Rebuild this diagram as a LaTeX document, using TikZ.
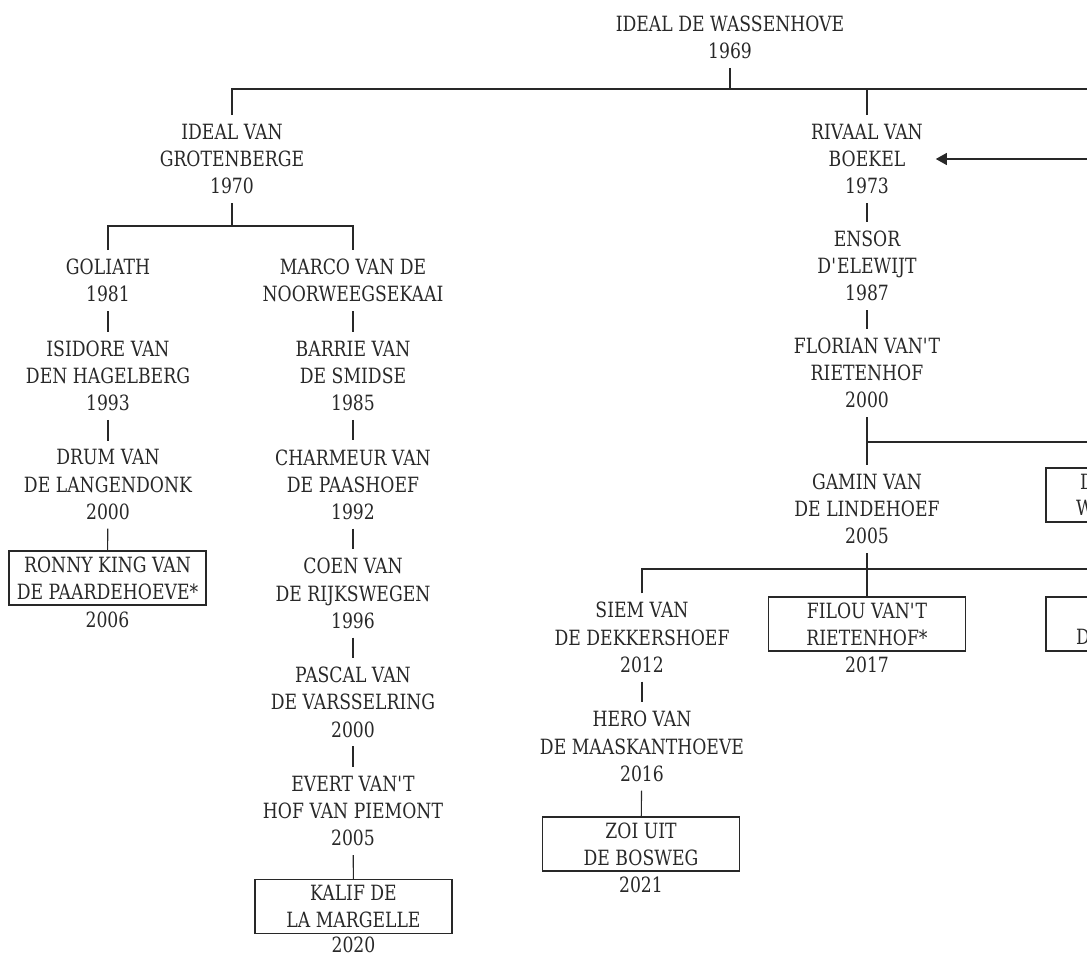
\documentclass[tikz,border=0pt]{standalone}
\usepackage{fontspec}
\setmainfont{DejaVu Serif}[FakeStretch=0.82]
\usetikzlibrary{arrows.meta}
\definecolor{inkcolor}{RGB}{40,40,40}

\tikzset{
  dog/.style={align=center, inner sep=0pt, outer sep=9pt, text=inkcolor,
    font=\fontsize{21pt}{27.2pt}\selectfont},
  dogbox/.style={dog, draw=inkcolor, line width=1.1pt, outer sep=0pt,
    minimum width=197pt, minimum height=54pt},
  cut/.style={anchor=west, inner sep=0pt, text=inkcolor,
    font=\fontsize{21pt}{27.2pt}\selectfont},
  link/.style={draw=inkcolor, line width=1.1pt}
}
\newcommand{\apos}{\textquotesingle}

\begin{document}
\begin{tikzpicture}[x=1pt, y=-1pt]
        \useasboundingbox (0,0) rectangle (1087,956);
        \clip (0,0) rectangle (1087,956);

        % Top
        \node[dog] (wass) at (730,37.3) {IDEAL DE WASSENHOVE\\1969};

        % Left branch
        \node[dog] (grot) at (232,159) {IDEAL VAN\\GROTENBERGE\\1970};
        \node[dog] (goliath) at (108,280.6) {GOLIATH\\1981};
        \node[dog] (isidore) at (108,375.8) {ISIDORE VAN\\DEN HAGELBERG\\1993};
        \node[dog] (drum) at (108,484.6) {DRUM VAN\\DE LANGENDONK\\2000};
        \node[dogbox] (ronny) at (107.5,578) {RONNY KING VAN\\DE PAARDEHOEVE*};
        \node[dog] (ronnyyr) at (107.5,620) {2006};

        \node[dog] (marco) at (353,280.6) {MARCO VAN DE\\NOORWEEGSEKAAI};
        \node[dog] (barrie) at (353,375.8) {BARRIE VAN\\DE SMIDSE\\1985};
        \node[dog] (charmeur) at (353,484.6) {CHARMEUR VAN\\DE PAASHOEF\\1992};
        \node[dog] (coen) at (353,593.4) {COEN VAN\\DE RIJKSWEGEN\\1996};
        \node[dog] (pascal) at (353,702.2) {PASCAL VAN\\DE VARSSELRING\\2000};
        \node[dog] (evert) at (353,811) {EVERT VAN\apos T\\HOF VAN PIEMONT\\2005};
        \node[dogbox] (kalif) at (353.5,906.5) {KALIF DE\\LA MARGELLE};
        \node[dog] (kalifyr) at (353.5,944.5) {2020};

        % Right branch
        \node[dog] (rivaal) at (867,159) {RIVAAL VAN\\BOEKEL\\1973};
        \node[dog] (ensor) at (867,266) {ENSOR\\D\apos ELEWIJT\\1987};
        \node[dog] (florian) at (867,373) {FLORIAN VAN\apos T\\RIETENHOF\\2000};
        \node[dog] (gamin) at (867,509) {GAMIN VAN\\DE LINDEHOEF\\2005};
        \node[dogbox] (dboxa) at (1144.5,495) {};
        \node[cut] at (1080,482) {D};
        \node[cut] at (1076,508) {W};

        \node[dog] (siem) at (642,637.5) {SIEM VAN\\DE DEKKERSHOEF\\2012};
        \node[dog] (hero) at (642,746.5) {HERO VAN\\DE MAASKANTHOEVE\\2016};
        \node[dogbox] (zoi) at (641,844) {ZOI UIT\\DE BOSWEG};
        \node[dog] (zoiyr) at (641,885) {2021};
        \node[dogbox] (filou) at (867,624) {FILOU VAN\apos T\\RIETENHOF*};
        \node[dog] (filouyr) at (867,665) {2017};
        \node[dogbox] (dboxb) at (1144.5,624) {};
        \node[cut] at (1076,637) {D};

        % Connections
        \draw[link] (wass) -- (wass |- 0,89);
        \draw[link] (grot) |- (1200,89);
        \draw[link] (rivaal) -- (rivaal |- 0,89);
        \draw[link, -{Triangle[length=11pt, width=12pt]}, shorten >=4pt] (1200,159) -- (rivaal.east);

        \draw[link] (grot) -- (grot |- 0,226);
        \draw[link] (goliath) |- (marco |- 0,226) -- (marco);
        \draw[link] (goliath) -- (isidore);
        \draw[link] (isidore) -- (drum);
        \draw[link] (drum) -- (ronny);
        \draw[link] (marco) -- (barrie);
        \draw[link] (barrie) -- (charmeur);
        \draw[link] (charmeur) -- (coen);
        \draw[link] (coen) -- (pascal);
        \draw[link] (pascal) -- (evert);
        \draw[link] (evert) -- (kalif);

        \draw[link] (rivaal) -- (ensor);
        \draw[link] (ensor) -- (florian);
        \draw[link] (florian) -- (florian |- 0,442);
        \draw[link] (gamin) |- (1200,442);
        \draw[link] (dboxa) -- (dboxa |- 0,442);
        \draw[link] (gamin) -- (gamin |- 0,569);
        \draw[link] (siem) |- (1200,569);
        \draw[link] (filou) -- (filou |- 0,569);
        \draw[link] (dboxb) -- (dboxb |- 0,569);
        \draw[link] (siem) -- (hero);
        \draw[link] (hero) -- (zoi);
    \end{tikzpicture}
\end{document}
